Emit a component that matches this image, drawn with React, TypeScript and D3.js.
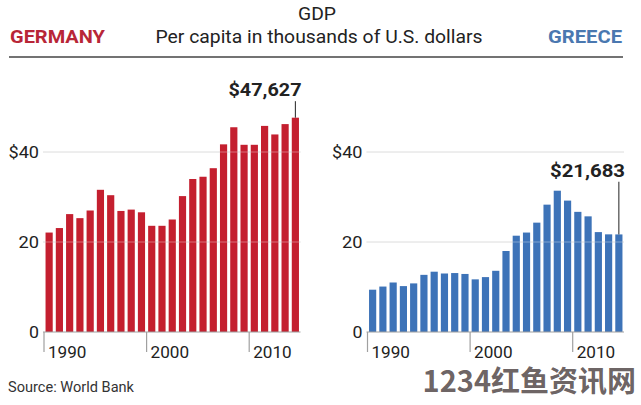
import React from "react";
import * as d3 from "d3";

const years = d3.range(1990, 2015);
const germanyValues = [22.1, 23.1, 26.2, 25.3, 27.0, 31.6, 30.4, 26.9, 27.2, 26.6, 23.6, 23.6, 25.0, 30.2, 34.0, 34.5, 36.4, 41.7, 45.5, 41.6, 41.6, 45.8, 43.9, 46.2, 47.627];
const greeceValues = [9.4, 10.1, 11.0, 10.2, 10.8, 12.7, 13.4, 13.0, 13.1, 12.9, 11.7, 12.2, 13.6, 18.0, 21.4, 22.1, 24.3, 28.3, 31.4, 29.2, 26.7, 25.7, 22.2, 21.7, 21.683];
const yTicks = [0, 20, 40];
const yTickLabels = ["0", "20", "$40"];
const xTickYears = [1990, 2000, 2010];
const germanyLabel = "$47,627";
const greeceLabel = "$21,683";
// annotation baseline level, in thousands of dollars
const germanyLabelLevel = 52.4;
const greeceLabelLevel = 34.5;

const FONT = "Roboto, 'Liberation Sans', sans-serif";

function T({ w, children, ...rest }: any) {
  return (
    <text fontFamily={FONT} textLength={w} lengthAdjust="spacingAndGlyphs" {...rest}>
      {children}
    </text>
  );
}

const yLabelW: Record<string, number> = { "0": 10, "20": 20.5, "$40": 30.5 };

function Panel({ values, color, x0, x1, label, labelLevel, labelW }: { values: number[]; color: string; x0: number; x1: number; label: string; labelLevel: number; labelW: number }) {
  const x = d3.scaleBand<number>().domain(years).range([x0, x1]).paddingInner(0.3).paddingOuter(0.15);
  const y = d3.scaleLinear().domain([0, 40]).range([332, 152]);
  const step = x.step();
  const tickX = (yr: number) => (x(yr) as number) - (step * 0.3) / 2;
  const last = years[years.length - 1];
  const lastV = values[values.length - 1];
  const lastCx = (x(last) as number) + x.bandwidth() / 2;
  return (
    <g>
      {yTicks.map((t, i) => (
        <T key={"yl" + t} x={x0 - 5} y={y(t) + 6} w={yLabelW[yTickLabels[i]]} textAnchor="end" fontSize={16.5} fill="#222">
          {yTickLabels[i]}
        </T>
      ))}
      {yTicks.filter(t => t > 0).map(t => (
        <line key={"g0" + t} x1={x0 - 1} x2={x1} y1={y(t)} y2={y(t)} stroke="#d6d6d6" strokeWidth={1} />
      ))}
      {values.map((v, i) => (
        <rect key={years[i]} x={x(years[i])} y={y(v)} width={x.bandwidth()} height={y(0) - y(v)} fill={color} />
      ))}
      {yTicks.filter(t => t > 0).map(t => (
        <line key={"g1" + t} x1={x0 - 1} x2={x1} y1={y(t)} y2={y(t)} stroke="#ffffff" strokeOpacity={0.35} strokeWidth={1} />
      ))}
      <line x1={x0 - 1} x2={x1} y1={y(0)} y2={y(0)} stroke="#a0a0a0" strokeWidth={1.2} />
      {xTickYears.map(yr => (
        <g key={"xt" + yr}>
          <line x1={tickX(yr)} x2={tickX(yr)} y1={y(0)} y2={y(0) + 20} stroke="#a0a0a0" strokeWidth={1.2} />
          <T x={tickX(yr) + 4} y={358} w={38.5} fontSize={16.5} fill="#222">{yr}</T>
        </g>
      ))}
      <line x1={lastCx} x2={lastCx} y1={y(labelLevel) + 5} y2={y(lastV)} stroke="#222" strokeWidth={1} />
      <T x={x1 + 1 - labelW} y={y(labelLevel)} w={labelW} fontSize={18} fontWeight="bold" fill="#222">{label}</T>
    </g>
  );
}

export default function App() {
  return (
    <svg width={641} height={405} style={{ position: "absolute", left: 0, top: 0, background: "#fff" }}>
      <rect width={641} height={405} fill="#ffffff" />
      <T x={298} y={20} w={38} fontSize={17.5} fill="#222">GDP</T>
      <T x={155.5} y={43} w={327} fontSize={17.5} fill="#222">Per capita in thousands of U.S. dollars</T>
      <T x={10} y={43} w={95} fontSize={17.5} fontWeight="bold" fill="#b82637">GERMANY</T>
      <T x={548} y={43} w={74} fontSize={17.5} fontWeight="bold" fill="#4a78b0">GREECE</T>
      <line x1={9} x2={623} y1={57} y2={57} stroke="#444" strokeWidth={1.5} />
      <Panel values={germanyValues} color="#c41f2f" x0={44} x1={300.5} label={germanyLabel} labelLevel={germanyLabelLevel} labelW={73} />
      <Panel values={greeceValues} color="#3d73b8" x0={367.5} x1={624} label={greeceLabel} labelLevel={greeceLabelLevel} labelW={75} />
      <T x={8} y={391.5} w={126} fontSize={15} fill="#333">Source: World Bank</T>
      <text x={636} y={392} textAnchor="end" fontSize={29} fontWeight="bold" fill="#5a5050" fillOpacity={0.9} fontFamily="'Noto Sans CJK SC', Roboto, sans-serif">1234红鱼资讯网</text>
    </svg>
  );
}
